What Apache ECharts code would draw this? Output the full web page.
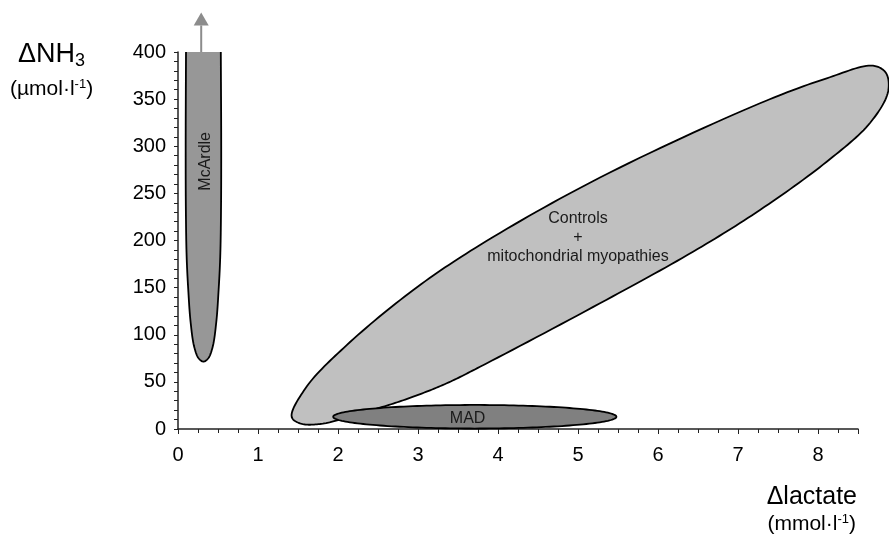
<!DOCTYPE html>
<html>
<head>
<meta charset="utf-8">
<script src="https://cdn.jsdelivr.net/npm/echarts@6/dist/echarts.min.js"></script>
<style>
  html, body { margin: 0; padding: 0; background: #fff; }
  #chart { width: 889px; height: 539px; }
</style>
</head>
<body>
<div id="chart"></div>
<script>
// Region names drawn inside each zone
const regionNames = ['McArdle', 'Controls\n+\nmitochondrial myopathies', 'MAD'];

// Zone outlines in data units: [Δlactate (mmol/l), ΔNH3 (µmol/l)]
const controlsOutline = [
  [1.421, 13], [1.609, 45], [2.109, 89], [2.941, 147.5], [3.775, 195.2],
  [5.275, 266.8], [7.275, 345.6], [8.109, 372.1], [8.688, 385.5],
  [8.85, 377.7], [8.875, 357.6], [8.65, 324.7], [8.109, 283.6], [7.275, 232.4],
  [6.438, 188.1], [5.275, 133.4], [3.775, 66], [3.359, 48.5],
  [2.941, 34.3], [2.525, 22.6], [1.775, 5.3], [1.525, 6.0]
];

// McArdle zone: open at the top (it continues beyond 400)
const mcardleOutline = [
  [0.100, 400], [0.096, 307], [0.098, 236], [0.108, 183], [0.128, 148],
  [0.158, 113], [0.203, 87], [0.258, 75], [0.318, 71.5], [0.378, 75],
  [0.433, 87], [0.478, 113], [0.508, 148], [0.528, 183], [0.538, 236],
  [0.540, 307], [0.535, 400]
];
// Arrow above the McArdle zone: [x, from, to]
const mcardleArrow = [0.29, 400, 442];

// MAD zone: ellipse centre and semi-axes
const madCenter = [3.71, 13];
const madRadii = [1.77, 12.5];

const FONT = '"Liberation Sans", Arial, Helvetica, sans-serif';

// Centripetal Catmull-Rom through pixel points
function spline(pts, closed, steps) {
  const N = pts.length;
  const out = [];
  const get = i => pts[(i + N) % N];
  const segs = closed ? N : N - 1;
  const lerp = (a, b, ta, tb, t) => {
    const d = tb - ta || 1e-6;
    return [a[0] * (tb - t) / d + b[0] * (t - ta) / d, a[1] * (tb - t) / d + b[1] * (t - ta) / d];
  };
  const dt = (a, b) => Math.max(Math.sqrt(Math.hypot(b[0] - a[0], b[1] - a[1])), 1e-4);
  for (let i = 0; i < segs; i++) {
    const p1 = get(i), p2 = get(i + 1);
    const p0 = (!closed && i === 0) ? [2 * p1[0] - p2[0], 2 * p1[1] - p2[1]] : get(i - 1);
    const p3 = (!closed && i === N - 2) ? [2 * p2[0] - p1[0], 2 * p2[1] - p1[1]] : get(i + 2);
    const t0 = 0, t1 = t0 + dt(p0, p1), t2 = t1 + dt(p1, p2), t3 = t2 + dt(p2, p3);
    for (let j = 0; j < steps; j++) {
      const t = t1 + (t2 - t1) * j / steps;
      const A1 = lerp(p0, p1, t0, t1, t), A2 = lerp(p1, p2, t1, t2, t), A3 = lerp(p2, p3, t2, t3, t);
      const B1 = lerp(A1, A2, t0, t2, t), B2 = lerp(A2, A3, t1, t3, t);
      out.push(lerp(B1, B2, t1, t2, t));
    }
  }
  if (!closed) out.push(pts[N - 1]);
  return out;
}

function labelText(api, pos, text, rotation) {
  const c = api.coord(pos);
  return {
    type: 'text', x: c[0], y: c[1], rotation: rotation || 0, z2: 10,
    style: {
      text: text, x: 0, y: 0, fill: '#1a1a1a',
      font: '16px ' + FONT, fontSize: 16, fontFamily: FONT,
      align: 'center', verticalAlign: 'middle',
      textAlign: 'center', textVerticalAlign: 'middle', lineHeight: 19
    }
  };
}

const chart = echarts.init(document.getElementById('chart'), null, { renderer: 'canvas' });

chart.setOption({
  animation: false,
  backgroundColor: '#fff',
  grid: { left: 178, right: 31, top: 52, bottom: 110 },
  xAxis: {
    type: 'value', min: 0, max: 8.5, interval: 1,
    axisLine: { show: true, onZero: false, lineStyle: { color: '#222', width: 1.5 } },
    axisTick: { show: true, length: 5, lineStyle: { color: '#222', width: 1 } },
    minorTick: { show: true, splitNumber: 4, length: 4, lineStyle: { color: '#222', width: 1 } },
    splitLine: { show: false },
    axisLabel: {
      fontSize: 20, fontFamily: FONT, color: '#000', margin: 16,
      showMaxLabel: false
    }
  },
  yAxis: {
    type: 'value', min: 0, max: 400, interval: 50,
    axisLine: { show: true, onZero: false, lineStyle: { color: '#222', width: 1.5 } },
    axisTick: { show: true, length: 4, lineStyle: { color: '#222', width: 1 } },
    minorTick: { show: true, splitNumber: 5, length: 4, lineStyle: { color: '#222', width: 1 } },
    splitLine: { show: false },
    axisLabel: { fontSize: 20, fontFamily: FONT, color: '#000', margin: 12 }
  },
  graphic: [
    {
      type: 'text', x: 18, y: 40,
      style: {
        text: '{a|ΔNH}{s|3}', fill: '#000',
        textAlign: 'left', textVerticalAlign: 'top',
        rich: {
          a: { fontSize: 27, fontFamily: FONT, lineHeight: 30, fill: '#000' },
          s: { fontSize: 18, fontFamily: FONT, lineHeight: 14, verticalAlign: 'bottom', fill: '#000' }
        }
      }
    },
    {
      type: 'text', x: 10, y: 78,
      style: {
        text: '{a|(µmol·l}{s|-1}{a|)}', fill: '#000',
        textAlign: 'left', textVerticalAlign: 'top',
        rich: {
          a: { fontSize: 21, fontFamily: FONT, lineHeight: 23, fill: '#000' },
          s: { fontSize: 13, fontFamily: FONT, lineHeight: 10, verticalAlign: 'top', fill: '#000' }
        }
      }
    },
    {
      type: 'text', x: 857, y: 497,
      style: {
        text: 'Δlactate', fill: '#000', font: '25px ' + FONT,
        textAlign: 'right', textVerticalAlign: 'middle'
      }
    },
    {
      type: 'text', x: 856, y: 513,
      style: {
        text: '{a|(mmol·l}{s|-1}{a|)}', fill: '#000',
        textAlign: 'right', textVerticalAlign: 'top',
        rich: {
          a: { fontSize: 21, fontFamily: FONT, lineHeight: 23, fill: '#000' },
          s: { fontSize: 13, fontFamily: FONT, lineHeight: 10, verticalAlign: 'top', fill: '#000' }
        }
      }
    }
  ],
  series: [
    {
      name: 'Controls', type: 'custom', coordinateSystem: 'cartesian2d', z: 2, clip: false,
      data: [[0, 0]],
      renderItem: function (params, api) {
        const pts = spline(controlsOutline.map(p => api.coord(p)), true, 16);
        return {
          type: 'group',
          children: [
            { type: 'polygon', shape: { points: pts }, style: { fill: '#c0c0c0', stroke: '#000', lineWidth: 1.8 } },
            labelText(api, [5.0, 203], regionNames[1], 0)
          ]
        };
      }
    },
    {
      name: 'McArdle', type: 'custom', coordinateSystem: 'cartesian2d', z: 3, clip: false,
      data: [[0, 0]],
      renderItem: function (params, api) {
        const pts = spline(mcardleOutline.map(p => api.coord(p)), false, 12);
        const base = api.coord([mcardleArrow[0], mcardleArrow[1]]);
        const tip = api.coord([mcardleArrow[0], mcardleArrow[2]]);
        const headLen = 13, headHalf = 7.5;
        return {
          type: 'group',
          children: [
            { type: 'polygon', shape: { points: pts }, style: { fill: '#979797', stroke: null } },
            { type: 'polyline', shape: { points: pts }, style: { fill: null, stroke: '#000', lineWidth: 1.8 } },
            { type: 'line', shape: { x1: base[0], y1: base[1], x2: tip[0], y2: tip[1] + headLen },
              style: { stroke: '#8c8c8c', lineWidth: 2 } },
            { type: 'polygon', shape: { points: [[tip[0], tip[1]], [tip[0] - headHalf, tip[1] + headLen], [tip[0] + headHalf, tip[1] + headLen]] },
              style: { fill: '#8c8c8c' } },
            labelText(api, [0.344, 284], regionNames[0], Math.PI / 2)
          ]
        };
      }
    },
    {
      name: 'MAD', type: 'custom', coordinateSystem: 'cartesian2d', z: 4, clip: false,
      data: [[0, 0]],
      renderItem: function (params, api) {
        const pts = [];
        for (let k = 0; k < 180; k++) {
          const a = (k / 180) * Math.PI * 2;
          pts.push(api.coord([madCenter[0] + madRadii[0] * Math.cos(a), madCenter[1] + madRadii[1] * Math.sin(a)]));
        }
        return {
          type: 'group',
          children: [
            { type: 'polygon', shape: { points: pts }, style: { fill: '#808080', stroke: '#000', lineWidth: 1.8 } },
            labelText(api, [3.62, 11], regionNames[2], 0)
          ]
        };
      }
    }
  ]
});
</script>
</body>
</html>
